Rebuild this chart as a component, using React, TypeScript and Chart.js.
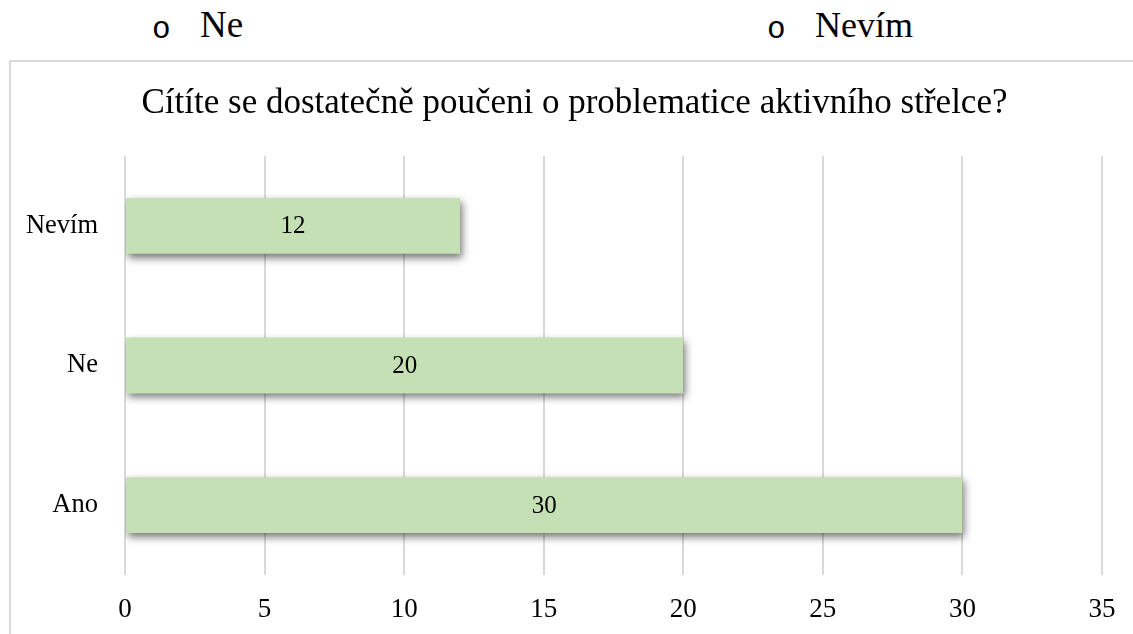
import React, { useEffect, useRef } from "react";
import { Chart, registerables } from "chart.js";

Chart.register(...registerables);

const categories = ["Nevím", "Ne", "Ano"];
const values = [12, 20, 30];
const titleText = "Cítíte se dostatečně poučeni o problematice aktivního střelce?";
const xMin = 0;
const xMax = 35;
const xStep = 5;
const listItems = ["Ne", "Nevím"];

const SERIF = '"Liberation Serif", "DejaVu Serif", serif';

export default function App() {
  const ref = useRef<HTMLCanvasElement | null>(null);

  useEffect(() => {
    const canvas = ref.current;
    if (!canvas) return;

    const shadowPlugin = {
      id: "barShadow",
      beforeDatasetsDraw(chart: any) {
        const ctx = chart.ctx;
        ctx.save();
        ctx.shadowColor = "rgba(0,0,0,0.55)";
        ctx.shadowBlur = 8;
        ctx.shadowOffsetX = 2;
        ctx.shadowOffsetY = 4;
      },
      afterDatasetsDraw(chart: any) {
        const ctx = chart.ctx;
        ctx.restore();
        const meta = chart.getDatasetMeta(0);
        ctx.save();
        ctx.font = `25px ${SERIF}`;
        ctx.fillStyle = "#000";
        ctx.textAlign = "center";
        ctx.textBaseline = "middle";
        meta.data.forEach((el: any, i: number) => {
          const cx = (el.x + el.base) / 2;
          ctx.fillText(String(chart.data.datasets[0].data[i]), cx, el.y + 1);
        });
        ctx.restore();
      },
    };

    const titlePlugin = {
      id: "offsetTitle",
      afterDraw(chart: any) {
        const ctx = chart.ctx;
        ctx.save();
        ctx.font = `35px ${SERIF}`;
        ctx.fillStyle = "#000";
        ctx.textAlign = "center";
        ctx.textBaseline = "alphabetic";
        ctx.fillText(titleText, 574.5, 113);
        ctx.restore();
      },
    };

    const chart = new Chart(canvas, {
      type: "bar",
      data: {
        labels: categories,
        datasets: [
          {
            data: values,
            backgroundColor: "#c5e0b4",
            borderWidth: 0,
            barPercentage: 0.4,
            categoryPercentage: 1,
          },
        ],
      },
      plugins: [shadowPlugin, titlePlugin],
      options: {
        indexAxis: "y",
        responsive: false,
        animation: false,
        devicePixelRatio: 1,
        layout: { padding: { left: 0, right: 47, top: 156, bottom: 0 } },
        plugins: {
          legend: { display: false },
          tooltip: { enabled: false },
          title: { display: false },
        },
        scales: {
          x: {
            min: xMin,
            max: xMax,
            ticks: {
              stepSize: xStep,
              color: "#000",
              font: { family: SERIF, size: 27 },
              padding: 19,
            },
            grid: { color: "#d9d9d9", lineWidth: 2, drawTicks: false },
            border: { display: false },
            afterFit(scale: any) {
              scale.height = 59;
            },
          },
          y: {
            ticks: {
              color: "#000",
              font: { family: SERIF, size: 26.5 },
              padding: 27,
            },
            grid: { display: false, drawTicks: false },
            border: { display: false },
            afterFit(scale: any) {
              scale.width = 125;
            },
          },
        },
      },
    });
    return () => chart.destroy();
  }, []);

  return (
    <div
      style={{
        position: "fixed",
        left: 0,
        top: 0,
        width: 1133,
        height: 634,
        overflow: "hidden",
        background: "#fff",
      }}
    >
      <div
        style={{
          position: "absolute",
          left: 9,
          top: 60,
          width: 1200,
          height: 700,
          border: "2px solid #d9d9d9",
          boxSizing: "border-box",
        }}
      />
      {[
        { bx: 155, tx: 200, text: listItems[0], size: 37 },
        { bx: 770, tx: 815, text: listItems[1], size: 36 },
      ].map((it) => (
        <React.Fragment key={it.text}>
          <span
            style={{
              position: "absolute",
              left: it.bx - 3,
              top: 14,
              fontFamily: '"Liberation Mono", monospace',
              fontSize: 31,
              lineHeight: 1,
              color: "#000",
            }}
          >
            o
          </span>
          <span
            style={{
              position: "absolute",
              left: it.tx,
              top: 37 - it.size * 0.8375,
              fontFamily: SERIF,
              fontSize: it.size,
              lineHeight: 1,
              color: "#000",
              whiteSpace: "nowrap",
            }}
          >
            {it.text}
          </span>
        </React.Fragment>
      ))}
      <canvas
        ref={ref}
        width={1149}
        height={634}
        style={{ position: "absolute", left: 0, top: 0, width: 1149, height: 634 }}
      />
    </div>
  );
}
